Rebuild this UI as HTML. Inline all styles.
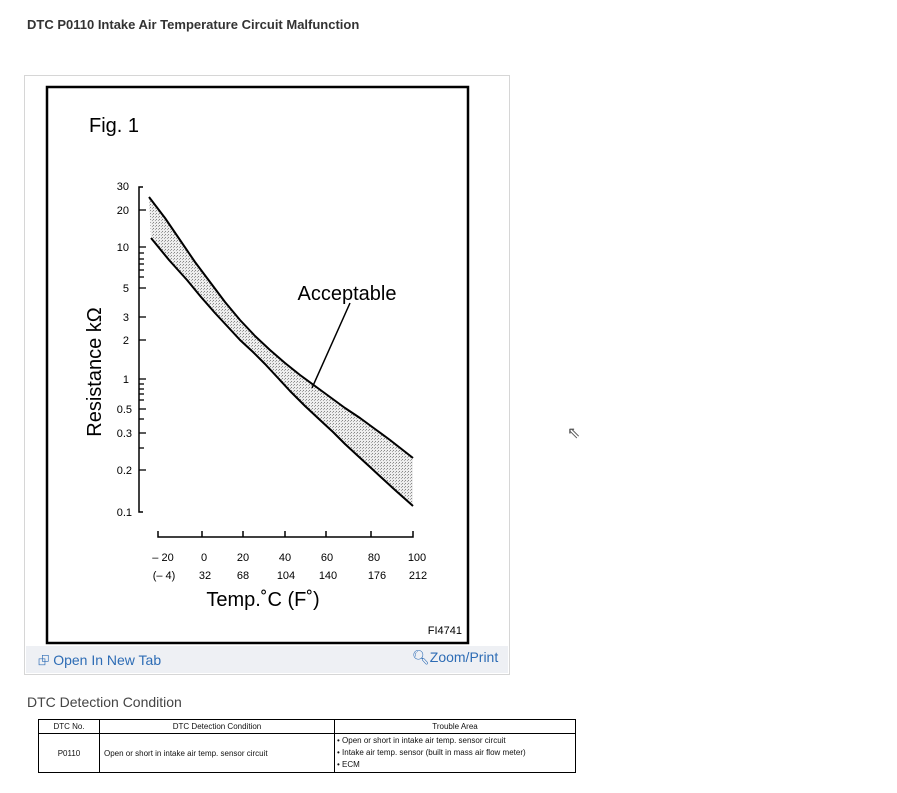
<!DOCTYPE html>
<html><head><meta charset="utf-8"><style>
body{margin:0;width:897px;height:793px;background:#fff;font-family:"Liberation Sans",Arial,sans-serif;position:relative;overflow:hidden}
.t{position:absolute;white-space:nowrap}
</style></head><body>
<div class="t" style="left:27px;top:17px;font-size:13px;font-weight:bold;color:#333">DTC P0110 Intake Air Temperature Circuit Malfunction</div>
<div style="position:absolute;left:24px;top:75px;width:484px;height:598px;border:1px solid #d6d6d6;background:#fff"></div>
<div style="position:absolute;left:26px;top:646px;width:482px;height:27px;background:#eef0f4"></div>
<div class="t" style="left:38px;top:650px;font-size:14px;color:#2d6cb5">&#x2BBA;&nbsp;Open In New Tab</div>
<div class="t" style="left:412px;top:649px;font-size:14px;color:#2d6cb5">&#x1F50D;&#xFE0E;Zoom/Print</div>
<svg style="position:absolute;left:0;top:0" width="897" height="793" font-family="Liberation Sans,Arial,sans-serif">
<defs><pattern id="d" width="3" height="3" patternUnits="userSpaceOnUse"><rect width="3" height="3" fill="#eee"/><rect width="1" height="1" fill="#888"/><rect x="2" y="1" width="1" height="1" fill="#aaa"/></pattern></defs>
<rect x="47" y="87" width="421" height="556" fill="#fff" stroke="#000" stroke-width="2.5"/>
<text x="89" y="132" font-size="20">Fig. 1</text>
<text transform="translate(101,372) rotate(-90)" text-anchor="middle" font-size="20">Resistance kΩ</text>
<path d="M143,187 H139 V512 H143" fill="none" stroke="#000" stroke-width="1.5"/>
<g stroke="#000" stroke-width="1.3">
<line x1="139" y1="210" x2="146" y2="210"/><line x1="139" y1="247" x2="146" y2="247"/>
<line x1="139" y1="253" x2="144" y2="253"/><line x1="139" y1="259" x2="144" y2="259"/><line x1="139" y1="264" x2="144" y2="264"/><line x1="139" y1="270" x2="144" y2="270"/><line x1="139" y1="277" x2="144" y2="277"/>
<line x1="139" y1="288" x2="146" y2="288"/><line x1="139" y1="317" x2="146" y2="317"/><line x1="139" y1="340" x2="146" y2="340"/>
<line x1="139" y1="379" x2="146" y2="379"/><line x1="139" y1="384" x2="144" y2="384"/><line x1="139" y1="389" x2="144" y2="389"/><line x1="139" y1="394" x2="144" y2="394"/><line x1="139" y1="400" x2="144" y2="400"/>
<line x1="139" y1="409" x2="146" y2="409"/><line x1="139" y1="419" x2="144" y2="419"/><line x1="139" y1="433" x2="146" y2="433"/><line x1="139" y1="448" x2="144" y2="448"/><line x1="139" y1="470" x2="146" y2="470"/>
</g>
<g font-size="11" text-anchor="end">
<text x="129" y="190">30</text><text x="129" y="214">20</text><text x="129" y="251">10</text><text x="129" y="292">5</text><text x="129" y="321">3</text><text x="129" y="344">2</text><text x="129" y="383">1</text><text x="132" y="413">0.5</text><text x="132" y="437">0.3</text><text x="132" y="474">0.2</text><text x="132" y="516">0.1</text>
</g>
<polygon points="149,197 180,240 210,282 240,320 270,350 300,375 330,397 360,418 390,440 413,458 413,506 395,490 370,467 345,444 320,420 290,391 265,364 240,340 215,313 187,280 151,238" fill="url(#d)"/>
<polyline points="149,197 165,218 180,240 195,262 210,282 225,302 240,320 255,336 270,350 285,363 300,375 315,386 330,397 345,408 360,418 375,429 390,440 413,458" fill="none" stroke="#000" stroke-width="2" stroke-linejoin="round"/>
<polyline points="151,238 169,260 187,280 201,297 215,313 228,327 240,340 253,352 265,364 278,378 290,391 305,406 320,420 333,432 345,444 358,456 370,467 383,479 395,490 413,506" fill="none" stroke="#000" stroke-width="2" stroke-linejoin="round"/>
<line x1="312" y1="388" x2="350" y2="303" stroke="#000" stroke-width="1.5"/>
<text x="347" y="300" font-size="20" text-anchor="middle">Acceptable</text>
<path d="M158,531 V537 H413 V531" fill="none" stroke="#000" stroke-width="1.5"/>
<g stroke="#000" stroke-width="1.5"><line x1="202" y1="531" x2="202" y2="537"/><line x1="243" y1="531" x2="243" y2="537"/><line x1="285" y1="531" x2="285" y2="537"/><line x1="326" y1="531" x2="326" y2="537"/><line x1="371" y1="531" x2="371" y2="537"/></g>
<g font-size="11" text-anchor="middle">
<text x="163" y="561">– 20</text><text x="204" y="561">0</text><text x="243" y="561">20</text><text x="285" y="561">40</text><text x="327" y="561">60</text><text x="374" y="561">80</text><text x="417" y="561">100</text>
<text x="164" y="579">(– 4)</text><text x="205" y="579">32</text><text x="243" y="579">68</text><text x="286" y="579">104</text><text x="328" y="579">140</text><text x="377" y="579">176</text><text x="418" y="579">212</text>
</g>
<text x="263" y="606" font-size="20" text-anchor="middle">Temp.˚C (F˚)</text>
<text x="462" y="634" font-size="11" text-anchor="end">FI4741</text>
</svg>
<div class="t" style="left:27px;top:694px;font-size:14px;color:#444">DTC Detection Condition</div>
<table style="position:absolute;left:38px;top:719px;width:538px;border-collapse:collapse;font-size:8px;color:#111" cellpadding="0">
<tr style="height:14px"><td style="border:1px solid #000;width:60px;text-align:center">DTC No.</td><td style="border:1px solid #000;width:234px;text-align:center">DTC Detection Condition</td><td style="border:1px solid #000;text-align:center">Trouble Area</td></tr>
<tr style="height:39px"><td style="border:1px solid #000;text-align:center">P0110</td><td style="border:1px solid #000;padding-left:4px">Open or short in intake air temp. sensor circuit</td><td style="border:1px solid #000;padding-left:2px;line-height:12px">• Open or short in intake air temp. sensor circuit<br>• Intake air temp. sensor (built in mass air flow meter)<br>• ECM</td></tr>
</table>
<div class="t" style="left:567px;top:423px;font-size:16px;color:#555">&#x21D6;</div>
</body></html>
